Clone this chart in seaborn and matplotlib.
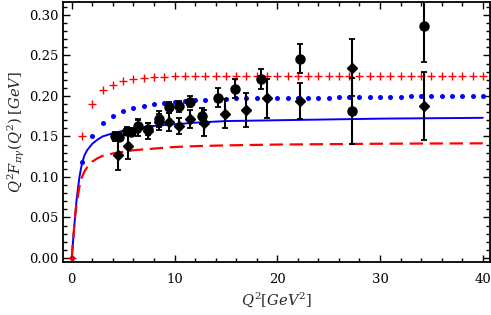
import numpy as np
import pandas as pd
import matplotlib
matplotlib.use("Agg")
import matplotlib.pyplot as plt
import seaborn as sns
from matplotlib.ticker import MultipleLocator

# ---- data ----
# red "+" series, Q^2 = 0..40
plus_q2 = list(range(0, 41))
plus_val = [0.0, 0.151, 0.190, 0.207, 0.214, 0.218, 0.221, 0.222, 0.223, 0.224,
            0.2242, 0.2244, 0.2245, 0.2245, 0.2246, 0.2246, 0.2247, 0.2248, 0.2248, 0.2248,
            0.2249, 0.2249, 0.2249, 0.2249, 0.225, 0.225, 0.225, 0.225, 0.225, 0.225,
            0.225, 0.225, 0.225, 0.225, 0.225, 0.225, 0.225, 0.225, 0.225, 0.225, 0.225]

# blue dotted series, Q^2 = 0..40
dot_q2 = list(range(0, 41))
dot_val = [0.0, 0.118, 0.151, 0.166, 0.175, 0.181, 0.185, 0.188, 0.190, 0.191,
           0.193, 0.194, 0.195, 0.195, 0.196, 0.196, 0.197, 0.197, 0.197, 0.197,
           0.198, 0.198, 0.198, 0.198, 0.198, 0.198, 0.199, 0.199, 0.199, 0.199,
           0.199, 0.199, 0.199, 0.200, 0.200, 0.200, 0.200, 0.200, 0.200, 0.200, 0.200]

# solid blue and dashed red curves
curve_q2 = [0, 0.1, 0.25, 0.4, 0.5, 0.75, 1, 1.25, 1.5, 2, 2.5, 3, 4, 5, 6, 8, 10,
            12, 15, 20, 25, 30, 35, 40]
blue_val = [0, 0.016, 0.040, 0.062, 0.075, 0.100, 0.117, 0.127, 0.133, 0.141, 0.146,
            0.150, 0.154, 0.157, 0.160, 0.163, 0.165, 0.167, 0.169, 0.170, 0.171,
            0.172, 0.1725, 0.173]
red_val = [0, 0.016, 0.040, 0.060, 0.069, 0.088, 0.100, 0.107, 0.112, 0.119, 0.123,
           0.126, 0.129, 0.131, 0.133, 0.135, 0.137, 0.138, 0.139, 0.140, 0.1405,
           0.141, 0.1413, 0.1415]

# data with errors: circles
circ_q2 = [4.24, 4.63, 5.35, 5.77, 6.48, 7.45, 8.46, 9.43, 10.47, 11.5, 12.7,
           14.2, 15.9, 18.4, 22.2, 27.3, 34.3]
circ_val = [0.150, 0.149, 0.157, 0.156, 0.163, 0.159, 0.172, 0.186, 0.187, 0.193,
            0.175, 0.198, 0.209, 0.221, 0.246, 0.1815, 0.2864]
circ_err = [0.005, 0.005, 0.005, 0.005, 0.008, 0.007, 0.010, 0.007, 0.007, 0.007,
            0.010, 0.012, 0.012, 0.012, 0.018, 0.041, 0.045]

# data with errors: diamonds
diam_q2 = [4.47, 5.45, 6.48, 7.45, 8.46, 9.43, 10.47, 11.5, 12.9, 14.9, 16.96,
           19.0, 22.2, 27.3, 34.3]
diam_val = [0.127, 0.138, 0.160, 0.157, 0.168, 0.168, 0.163, 0.172, 0.167, 0.178,
            0.183, 0.197, 0.194, 0.235, 0.188]
diam_err = [0.018, 0.016, 0.010, 0.010, 0.010, 0.011, 0.010, 0.011, 0.016, 0.018,
            0.021, 0.024, 0.022, 0.035, 0.042]

# ---- plotting ----
sns.set_style("ticks")
plt.rcParams['font.family'] = ['DejaVu Serif']
plt.rcParams['mathtext.fontset'] = 'dejavuserif'

fig = plt.figure(figsize=(4.91, 3.15), dpi=100)
ax = fig.add_axes([63 / 491, 53 / 315, 427 / 491, 260 / 315])

curves = pd.DataFrame({'Q2': curve_q2, 'blue': blue_val, 'red': red_val})
sns.lineplot(data=curves, x='Q2', y='blue', color='#0000ff', lw=1.4, ax=ax)
sns.lineplot(data=curves, x='Q2', y='red', color='#ff0000', lw=1.6, ax=ax,
             dashes=False, linestyle=(0, (6, 3)))

ax.plot(dot_q2, dot_val, 'o', color='#0000ff', ms=3.6, mec='none')
ax.plot(plus_q2, plus_val, '+', color='#ff0000', ms=6, mew=1.0)

ax.errorbar(circ_q2, circ_val, yerr=circ_err, fmt='o', color='black', ms=6.5,
            elinewidth=1.5, capsize=2.3, capthick=1.3)
ax.errorbar(diam_q2, diam_val, yerr=diam_err, fmt='D', color='black', ms=5.0,
            elinewidth=1.5, capsize=2.3, capthick=1.3)

ax.set_xlim(-0.85, 40.7)
ax.set_ylim(-0.005, 0.316)
ax.xaxis.set_major_locator(MultipleLocator(10))
ax.xaxis.set_minor_locator(MultipleLocator(2))
ax.yaxis.set_major_locator(MultipleLocator(0.05))
ax.yaxis.set_minor_locator(MultipleLocator(0.01))
ax.yaxis.set_major_formatter(matplotlib.ticker.FormatStrFormatter('%.2f'))
ax.tick_params(which='both', direction='in', top=True, right=True,
               labelsize=9.5, width=1.0, colors='black')
ax.tick_params(which='major', length=5)
ax.tick_params(which='minor', length=3)
ax.tick_params(axis='x', pad=8)
for s in ax.spines.values():
    s.set_linewidth(1.3)
    s.set_color('black')

ax.set_xlabel(r'$Q^2[GeV^2]$', fontsize=10.5, labelpad=3)
ax.set_ylabel(r'$Q^2F_{\pi\gamma}(Q^2)\;[GeV]$', fontsize=10.5, labelpad=1)

fig.savefig('out.png', dpi=100)
